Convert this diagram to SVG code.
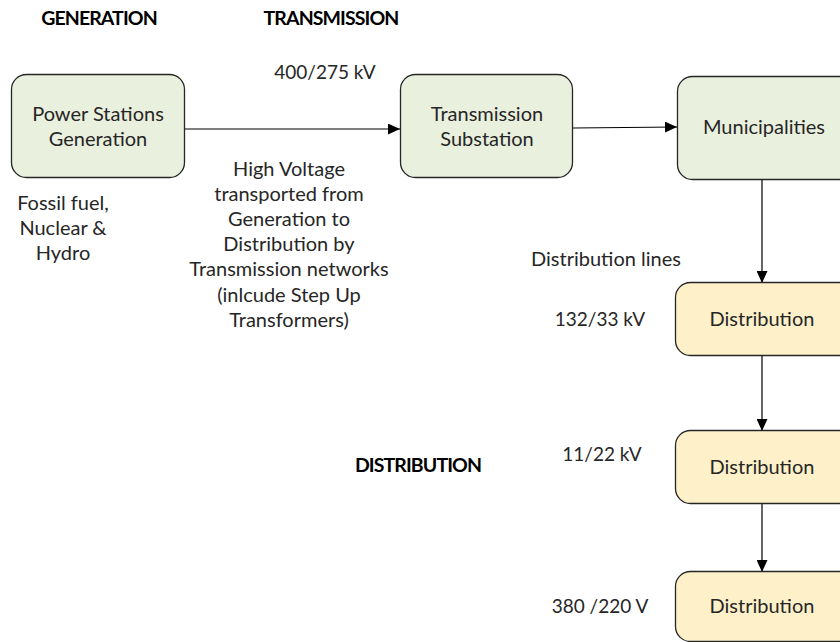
<svg xmlns="http://www.w3.org/2000/svg" width="840" height="642" viewBox="0 0 840 642">
  <style>
    .t { font-family: Lato, "Open Sans", sans-serif; font-size: 20px; fill: #262626; text-anchor: middle; }
    .n { font-size: 19px; }
    .h { font-family: Lato, "Open Sans", sans-serif; font-size: 19.5px; font-weight: bold; fill: #000; text-anchor: middle; letter-spacing: -0.9px; }
    .green { fill: #EAF0DE; stroke: #262626; stroke-width: 1.3; }
    .yellow { fill: #FEF0C9; stroke: #262626; stroke-width: 1.3; }
    .line { stroke: #000; stroke-width: 1.2; fill: none; marker-end: url(#arrow); }
  </style>
  <defs>
    <marker id="arrow" viewBox="0 0 12 11" refX="12" refY="5.5" markerWidth="12" markerHeight="11" markerUnits="userSpaceOnUse" orient="auto">
      <path d="M0,0 L12,5.5 L0,11 Z" fill="#000"/>
    </marker>
  </defs>
  <rect width="840" height="642" fill="#fff"/>

  <!-- section headings -->
  <text class="h" x="99" y="25">GENERATION</text>
  <text class="h" x="331" y="25">TRANSMISSION</text>
  <text class="h" x="418" y="472">DISTRIBUTION</text>

  <!-- connectors -->
  <g id="connectors">
    <line class="line" x1="185" y1="129" x2="400" y2="129"/>
    <line class="line" x1="573" y1="128" x2="677" y2="127"/>
    <line class="line" x1="762" y1="180" x2="762" y2="283"/>
    <line class="line" x1="762" y1="355" x2="762" y2="431"/>
    <line class="line" x1="762" y1="503" x2="762" y2="572"/>
  </g>

  <g id="power-stations">
    <rect class="green" x="11.5" y="74.5" width="173" height="103" rx="15"/>
    <text class="t" x="98" y="121">Power Stations</text>
    <text class="t" x="98" y="146">Generation</text>
  </g>

  <g id="transmission-substation">
    <rect class="green" x="400.5" y="74.5" width="172" height="103" rx="15"/>
    <text class="t" x="487" y="121">Transmission</text>
    <text class="t" x="487" y="146">Substation</text>
  </g>

  <g id="municipalities">
    <rect class="green" x="677.5" y="76.5" width="180" height="103" rx="15"/>
    <text class="t" x="764" y="134">Municipalities</text>
  </g>

  <g id="distribution-1">
    <rect class="yellow" x="675.5" y="282.5" width="180" height="73" rx="15"/>
    <text class="t" x="762" y="326">Distribution</text>
  </g>

  <g id="distribution-2">
    <rect class="yellow" x="675.5" y="430.5" width="180" height="73" rx="15"/>
    <text class="t" x="762" y="474">Distribution</text>
  </g>

  <g id="distribution-3">
    <rect class="yellow" x="675.5" y="571.5" width="180" height="70" rx="15"/>
    <text class="t" x="762" y="613">Distribution</text>
  </g>

  <!-- free labels -->
  <text class="t n" x="325" y="79">400/275 kV</text>
  <g class="t">
    <text x="63" y="210">Fossil fuel,</text>
    <text x="63" y="235">Nuclear &amp;</text>
    <text x="63" y="260">Hydro</text>
  </g>
  <g class="t">
    <text x="289" y="176">High Voltage</text>
    <text x="289" y="201">transported from</text>
    <text x="289" y="226">Generation to</text>
    <text x="289" y="251">Distribution by</text>
    <text x="289" y="276">Transmission networks</text>
    <text x="289" y="302">(inlcude Step Up</text>
    <text x="289" y="327">Transformers)</text>
  </g>
  <text class="t" x="606" y="266">Distribution lines</text>
  <text class="t n" x="600" y="326">132/33 kV</text>
  <text class="t n" x="602" y="461">11/22 kV</text>
  <text class="t n" x="600" y="613">380 /220 V</text>
</svg>
